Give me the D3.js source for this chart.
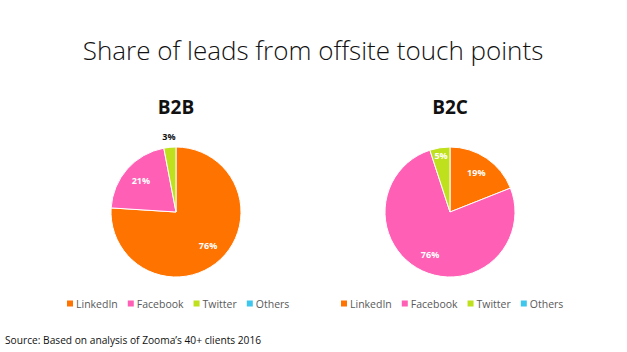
<!DOCTYPE html>
<html>
<head>
<meta charset="utf-8">
<script src="https://cdn.jsdelivr.net/npm/d3@7"></script>
<style>
  body { margin: 0; background: #fff; }
  svg { font-family: "Open Sans", sans-serif; }
</style>
</head>
<body>
<svg id="chart" width="627" height="352"></svg>
<script>
const channels = ["LinkedIn", "Facebook", "Twitter", "Others"];
const colors = ["#ff7300", "#ff5fb4", "#bfe01c", "#3fc6ec"];
const b2bShares = [76, 21, 3, 0];
const b2cShares = [19, 76, 5, 0];

const svg = d3.select("#chart");
const color = d3.scaleOrdinal().domain(channels).range(colors);

svg.append("text")
  .attr("x", 313)
  .attr("y", 60)
  .attr("text-anchor", "middle")
  .attr("font-size", 26)
  .attr("font-weight", 300)
  .attr("fill", "#111")
  .text("Share of leads from offsite touch points");

svg.append("text")
  .attr("x", 5)
  .attr("y", 344)
  .attr("font-size", 10.2)
  .attr("fill", "#111")
  .text("Source: Based on analysis of Zooma\u2019s 40+ clients 2016");

function drawPie(name, shares, cx, outside) {
  const r = 65;
  const data = channels.map((c, i) => ({ channel: c, value: shares[i] }));
  const pie = d3.pie().sort(null).value(d => d.value);
  const arcs = pie(data);
  const arc = d3.arc().innerRadius(0).outerRadius(r);
  // small slices get their label nearer the rim
  const labelArc = d => {
    const k = d.data.value < 10 ? 0.88 : 0.72;
    return d3.arc().innerRadius(r * k).outerRadius(r * k).centroid(d);
  };
  const outArc = d3.arc().innerRadius(r + 10).outerRadius(r + 10);

  svg.append("text")
    .attr("x", cx)
    .attr("y", 114)
    .attr("text-anchor", "middle")
    .attr("font-size", 19)
    .attr("font-weight", "bold")
    .attr("fill", "#111")
    .text(name);

  const g = svg.append("g").attr("transform", `translate(${cx}, 212)`);

  g.selectAll("path")
    .data(arcs.filter(d => d.data.value > 0))
    .enter().append("path")
    .attr("d", arc)
    .attr("fill", d => color(d.data.channel))
    .attr("stroke", "#fff")
    .attr("stroke-width", 1);

  g.selectAll("text")
    .data(arcs.filter(d => d.data.value > 0))
    .enter().append("text")
    .attr("transform", d => {
      const p = outside.includes(d.data.channel) ? outArc.centroid(d) : labelArc(d);
      return `translate(${p})`;
    })
    .attr("dy", "0.35em")
    .attr("text-anchor", "middle")
    .attr("font-size", 9)
    .attr("font-weight", "bold")
    .attr("fill", d => outside.includes(d.data.channel) ? "#111" : "#fff")
    .text(d => d.data.value + "%");

  // legend
  const legend = svg.append("g").attr("transform", `translate(${cx - 109}, 304)`);
  let x = 0;
  channels.forEach(c => {
    const item = legend.append("g").attr("transform", `translate(${x}, 0)`);
    item.append("rect")
      .attr("x", 0).attr("y", -3.5)
      .attr("width", 6).attr("height", 6)
      .attr("fill", color(c));
    const t = item.append("text")
      .attr("x", 9)
      .attr("dy", "0.35em")
      .attr("font-size", 10.5)
      .attr("fill", "#595959")
      .text(c);
    x += 9 + t.node().getComputedTextLength() + 10;
  });
}

drawPie("B2B", b2bShares, 176, ["Twitter"]);
drawPie("B2C", b2cShares, 450, []);
</script>
</body>
</html>
